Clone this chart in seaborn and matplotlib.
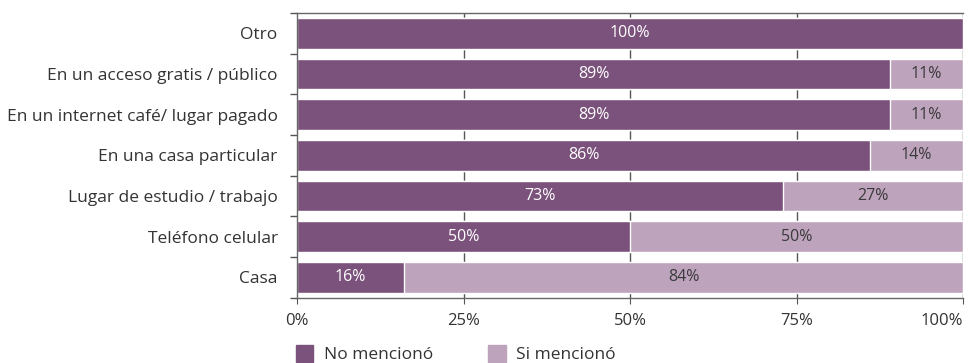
import pandas as pd
import matplotlib.pyplot as plt
import seaborn as sns
from matplotlib.patches import Patch
from matplotlib.ticker import FixedLocator

categorias = ["Otro", "En un acceso gratis / público", "En un internet café/ lugar pagado",
              "En una casa particular", "Lugar de estudio / trabajo", "Teléfono celular", "Casa"]
no_menciono = [100, 89, 89, 86, 73, 50, 16]
si_menciono = [0, 11, 11, 14, 27, 50, 84]

color_no = "#7b527c"
color_si = "#bea3bd"

df = pd.DataFrame({"Lugar": categorias, "No": no_menciono, "Si": si_menciono})
df["Total"] = df["No"] + df["Si"]

sns.set_style("white")
plt.rcParams["font.family"] = ["Open Sans", "DejaVu Sans"]

fig = plt.figure(figsize=(9.68, 3.63), dpi=100)
ax = fig.add_axes([0.307, 0.18, 0.688, 0.784])

sns.barplot(data=df, y="Lugar", x="Total", color=color_si, width=0.75, ax=ax, saturation=1)
sns.barplot(data=df, y="Lugar", x="No", color=color_no, width=0.75, ax=ax, saturation=1)

for i, (n, s) in enumerate(zip(no_menciono, si_menciono)):
    if n > 0:
        ax.text(n / 2, i, f"{n}%", ha="center", va="center", color="white", fontsize=11.5)
    if s > 0:
        ax.text(n + s / 2, i, f"{s}%", ha="center", va="center", color="#3a3a3a", fontsize=11.5)

ax.set_xlim(0, 100)
ax.set_ylim(len(categorias) - 0.5, -0.5)
ax.set_xticks([0, 25, 50, 75, 100])
ax.set_xticklabels(["0%", "25%", "50%", "75%", "100%"], fontsize=12, color="#333333")
ax.get_xticklabels()[-1].set_ha("right")
ax.set_xlabel("")
ax.set_ylabel("")
ax.tick_params(axis="y", length=0, labelsize=12.5, labelcolor="#333333", pad=14)
ax.yaxis.set_minor_locator(FixedLocator([i - 0.5 for i in range(len(categorias) + 1)]))
ax.tick_params(axis="y", which="minor", length=5, color="#555555", width=1, left=True)
ax.tick_params(axis="x", length=4, color="#555555", bottom=True, pad=7)

for v in [25, 50, 75, 100]:
    ax.axvline(v, color="#555555", linewidth=1, zorder=0)

for sp in ax.spines.values():
    sp.set_color("#666666")
    sp.set_linewidth(1)
ax.spines["right"].set_visible(False)

handles = [Patch(color=color_no, label="No mencionó"), Patch(color=color_si, label="Si mencionó")]
fig.legend(handles=handles, loc="lower left", bbox_to_anchor=(0.302, -0.01), ncol=2, frameon=False,
           fontsize=12.5, handlelength=1.0, handleheight=1.1, columnspacing=3.2, handletextpad=0.6,
           labelcolor="#333333", borderaxespad=0, borderpad=0.2)

fig.savefig("out.png", dpi=100)
